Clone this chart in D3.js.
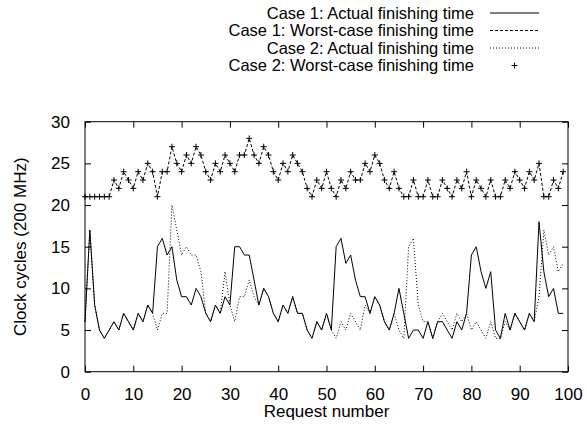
<!DOCTYPE html>
<html><head><meta charset="utf-8">
<script src="https://cdn.jsdelivr.net/npm/d3@7"></script>
<style>
html,body{margin:0;padding:0;background:#fff;}
svg text{font-family:"Liberation Sans",Arial,Helvetica,sans-serif;font-size:17px;fill:#000;}
svg .legend text{font-size:16.5px;}
</style></head>
<body><svg id="c" width="587" height="427"></svg>
<script>
const requests = d3.range(0, 100);
const case1Actual = [6,17,8,5,4,5,6,5,7,6,5,7,6,8,7,15,16,14,15,11,9,9,8,10,9,7,6,8,7,9,8,15,15,14,14,11,8,10,9,7,6,8,7,9,7,7,5,4,6,5,7,5,15,16,13,14,11,9,9,7,9,8,6,5,7,10,7,4,5,5,4,6,4,6,6,5,4,6,5,7,14,15,12,10,12,5,4,7,5,7,6,5,7,6,18,12,9,10,7,7];
const case1Worst = [21,21,21,21,21,21,23,22,24,23,22,24,23,25,24,21,24,24,27,25,24,26,25,27,26,24,23,25,24,26,25,24,26,26,28,26,25,27,26,24,23,25,24,26,25,24,22,21,23,22,24,22,21,23,22,24,23,23,25,24,26,25,23,22,24,22,21,21,23,21,21,23,21,21,23,22,21,23,22,24,21,23,22,21,23,21,21,23,22,24,23,22,24,23,25,21,21,23,22,24];
const case2Actual = [6,17,8,5,4,5,6,5,7,6,5,7,6,8,7,5,7,7,20,17,14,15,14,14,12,7,6,8,7,12,8,6,9,9,11,9,8,10,9,7,6,8,7,9,7,7,5,4,6,5,7,5,4,6,5,7,6,5,8,7,9,8,6,5,7,5,4,15,16,8,6,6,4,6,7,6,5,7,6,7,5,6,5,4,6,4,4,6,5,7,6,5,7,6,9,17,14,15,12,13];
const case2Worst = case1Worst.slice();
const xTicks = [0,10,20,30,40,50,60,70,80,90,100];
const yTicks = [0,5,10,15,20,25,30];
const seriesNames = ["Case 1: Actual finishing time","Case 1: Worst-case finishing time","Case 2: Actual finishing time","Case 2: Worst-case finishing time"];

const svg = d3.select("#c");
const L = 85, R = 568, T = 121.7, B = 371.7;
const x = d3.scaleLinear().domain([0,100]).range([L,R]);
const y = d3.scaleLinear().domain([0,30]).range([B,T]);

svg.append("rect").attr("x",L).attr("y",T).attr("width",R-L).attr("height",B-T)
  .attr("fill","none").attr("stroke","#000").attr("stroke-width",1);

const tk = 6;
const gx = svg.append("g").attr("transform",`translate(0,${B})`)
  .call(d3.axisBottom(x).tickValues(xTicks).tickSize(-tk).tickPadding(tk+10).tickFormat(d3.format("d")));
const gx2 = svg.append("g").attr("transform",`translate(0,${T})`)
  .call(d3.axisTop(x).tickValues(xTicks).tickSize(-tk).tickFormat(""));
const gy = svg.append("g").attr("transform",`translate(${L},0)`)
  .call(d3.axisLeft(y).tickValues(yTicks).tickSize(-tk).tickPadding(tk+9).tickFormat(d3.format("d")));
const gy2 = svg.append("g").attr("transform",`translate(${R},0)`)
  .call(d3.axisRight(y).tickValues(yTicks).tickSize(-tk).tickFormat(""));
[gx,gx2,gy,gy2].forEach(g=>{
  g.select(".domain").remove();
  g.attr("font-family",null).attr("font-size",null);
});

svg.append("text").attr("x",(L+R)/2).attr("y",417).attr("text-anchor","middle").text("Request number");
svg.append("text").attr("transform",`translate(26,${(T+B)/2}) rotate(-90)`).attr("text-anchor","middle").text("Clock cycles (200 MHz)");

const line = d3.line().x((d,i)=>x(requests[i])).y(d=>y(d));
const plot = svg.append("g");
plot.append("path").datum(case1Actual).attr("d",line).attr("fill","none").attr("stroke","#000").attr("stroke-width",1);
plot.append("path").datum(case1Worst).attr("d",line).attr("fill","none").attr("stroke","#000").attr("stroke-width",1).attr("stroke-dasharray","3,2");
plot.append("path").datum(case2Actual).attr("d",line).attr("fill","none").attr("stroke","#000").attr("stroke-width",1).attr("stroke-dasharray","1,2");
const plus = (g, cx, cy, s) => g.append("path").attr("d",`M${cx-s},${cy}H${cx+s}M${cx},${cy-s}V${cy+s}`).attr("stroke","#000").attr("stroke-width",1);
case2Worst.forEach((d,i)=>plus(plot, x(requests[i]), y(d), 3));

const lg = svg.append("g").attr("class","legend");
const rows = [13, 30.5, 48, 65.5];
const styles = ["none","3,2","1,2",null];
seriesNames.forEach((n,i)=>{
  lg.append("text").attr("x",474).attr("y",rows[i]).attr("dy","0.35em").attr("text-anchor","end").text(n);
  if (styles[i] !== null) {
    lg.append("line").attr("x1",490).attr("x2",539).attr("y1",rows[i]).attr("y2",rows[i])
      .attr("stroke","#000").attr("stroke-width",1).attr("stroke-dasharray",styles[i]==="none"?null:styles[i]);
  } else {
    plus(lg, 514.5, rows[i], 3);
  }
});
</script></body></html>
